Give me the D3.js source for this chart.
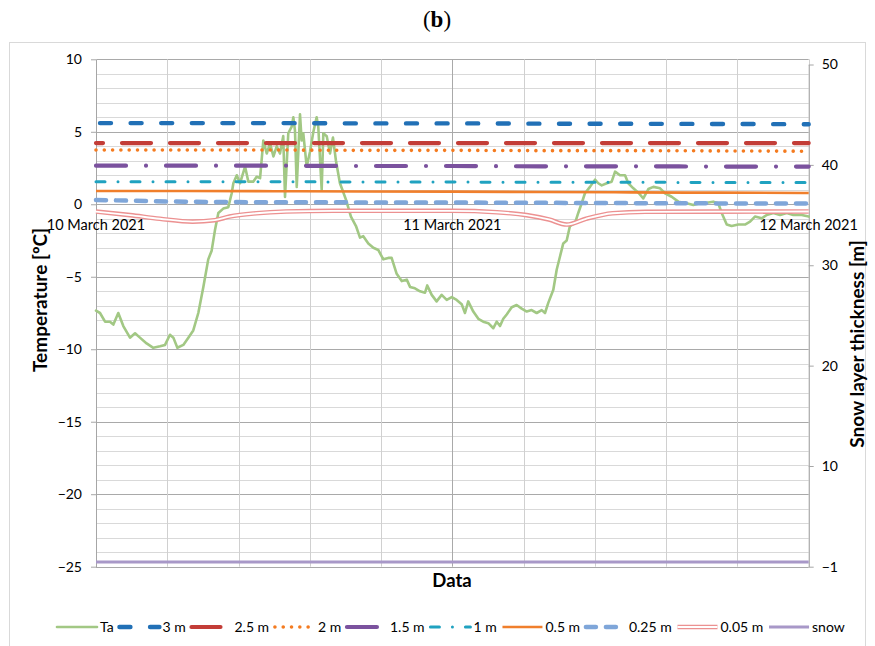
<!DOCTYPE html>
<html>
<head>
<meta charset="utf-8">
<script src="https://cdn.jsdelivr.net/npm/d3@7"></script>
<style>
  body { margin: 0; background: #fff; }
  svg { display: block; }
  text { font-family: Lato, "Open Sans", sans-serif; fill: #000; }
</style>
</head>
<body>
<svg id="chart" width="875" height="646"></svg>
<script>
// ---- data -------------------------------------------------------------
// Time is in hours from 10 March 2021 00:00
const dateLabels = ["10 March 2021", "11 March 2021", "12 March 2021"];
const dateHours = [0, 24, 48];

const leftTicks = [-25, -20, -15, -10, -5, 0, 5, 10];
const rightTicks = [-1, 10, 20, 30, 40, 50];

// Air temperature Ta [°C]
const taHours = [0.0,0.27,0.61,0.94,1.17,1.5,1.84,2.29,2.63,2.96,3.41,3.86,4.31,4.65,4.98,5.21,5.48,5.88,6.22,6.55,6.89,7.23,7.56,7.79,8.01,8.24,8.57,8.91,9.14,9.25,9.48,9.7,10.04,10.26,10.59,10.82,11.05,11.27,11.5,11.72,11.95,12.17,12.39,12.61,12.73,12.95,13.18,13.29,13.4,13.52,13.74,13.85,13.96,14.19,14.41,14.64,14.86,14.97,15.2,15.31,15.54,15.76,15.96,16.16,16.43,16.63,16.84,17.17,17.51,17.78,18.0,18.34,18.68,19.01,19.35,19.69,19.91,20.25,20.59,20.93,21.15,21.48,21.82,22.16,22.31,22.61,22.94,23.28,23.62,23.96,24.29,24.63,24.85,25.07,25.41,25.75,26.08,26.42,26.76,26.99,27.21,27.43,27.66,28.0,28.33,28.67,29.01,29.34,29.68,30.02,30.24,30.46,30.8,31.03,31.25,31.47,31.7,31.92,32.26,32.48,32.71,32.93,33.27,33.61,33.83,34.06,34.4,34.73,34.96,35.29,35.63,35.85,36.19,36.53,36.86,37.2,37.54,37.99,38.32,38.77,39.22,39.78,40.23,40.68,41.13,41.57,41.91,42.14,42.48,42.81,43.26,43.71,44.05,44.38,44.84,45.17,45.62,46.07,46.52,46.96,47.53,48.0];
const taValues = [-7.34,-7.5,-8.1,-8.1,-8.3,-7.5,-8.4,-9.2,-8.9,-9.2,-9.6,-9.9,-9.8,-9.7,-9.0,-9.2,-9.9,-9.7,-9.2,-8.7,-7.5,-5.7,-3.8,-3.2,-1.8,-0.6,-0.3,-0.2,0.76,1.45,2.0,1.45,2.6,1.56,1.56,1.9,1.8,4.4,3.5,4.2,3.3,4.0,3.5,4.7,0.5,4.9,5.35,6.0,5.1,1.2,6.2,4.4,4.9,2.6,3.6,5.0,6.0,5.35,1.0,4.9,4.7,3.5,4.6,3.0,1.45,0.9,0.3,-0.85,-1.5,-2.3,-2.2,-2.7,-3.0,-3.15,-3.8,-3.7,-3.7,-4.8,-5.3,-5.2,-5.7,-5.8,-6.0,-6.1,-5.6,-6.25,-6.7,-6.25,-6.6,-6.4,-6.6,-6.9,-7.5,-6.7,-7.4,-7.9,-8.1,-8.2,-8.55,-8.1,-8.4,-7.9,-7.6,-7.1,-6.95,-7.2,-7.4,-7.3,-7.5,-7.3,-7.5,-6.8,-5.9,-4.5,-3.6,-2.7,-2.5,-1.5,-1.3,-0.6,0.07,0.76,1.2,1.7,1.45,1.3,1.45,1.56,2.25,2.0,2.0,1.45,1.1,0.8,0.4,1.05,1.2,1.1,0.76,0.52,0.18,0.07,-0.05,0.07,0.1,0.18,0.07,-0.6,-1.4,-1.5,-1.4,-1.4,-1.2,-0.85,-0.97,-0.74,-0.6,-0.74,-0.6,-0.74,-0.74,-0.85];

// Ground temperatures at depth [°C]
const profileHours = [0, 6, 12, 18, 24, 30, 36, 42, 48];
const t3m   = [5.6, 5.6, 5.6, 5.58, 5.58, 5.56, 5.55, 5.54, 5.52];
const t25m  = [4.22, 4.22, 4.22, 4.22, 4.22, 4.22, 4.22, 4.22, 4.22];
const t2m   = [3.74, 3.74, 3.74, 3.72, 3.72, 3.7, 3.7, 3.68, 3.66];
const t15m  = [2.66, 2.66, 2.66, 2.64, 2.64, 2.62, 2.62, 2.6, 2.6];
const t1m   = [1.56, 1.56, 1.55, 1.54, 1.53, 1.52, 1.52, 1.5, 1.5];
const t05m  = [0.92, 0.92, 0.9, 0.88, 0.87, 0.85, 0.82, 0.8, 0.78];
const t025m = [0.3, 0.18, 0.14, 0.13, 0.12, 0.1, 0.08, 0.06, 0.05];

const t005Hours  = [0, 2.3, 4.3, 6.5, 8.0, 9.0, 10.8, 12.8, 16, 20, 24, 27, 29, 30.5, 31.7, 33, 34.8, 37, 48];
const t005Values = [-0.5, -0.75, -1.0, -1.2, -1.1, -0.85, -0.62, -0.5, -0.45, -0.45, -0.45, -0.55, -0.75, -1.05, -1.4, -1.0, -0.62, -0.52, -0.5];

// Snow layer thickness [m]
const snowHours = [0, 48];
const snowValues = [-0.5, -0.5];

// ---- layout -----------------------------------------------------------
const svg = d3.select("#chart");
const plot = { left: 96, right: 808.7, top: 59.3, bottom: 566.7 };

const x = d3.scaleLinear().domain([0, 48]).range([plot.left, plot.right]);
const yL = d3.scaleLinear().domain([-25, 10]).range([plot.bottom, plot.top]);
const yR = d3.scaleLinear().domain([-1, 10, 50]).range([plot.bottom, 466, 64.5]);

// outer chart frame
svg.append("rect").attr("x", 9.5).attr("y", 42.5).attr("width", 856).attr("height", 640)
  .attr("fill", "none").attr("stroke", "#d9d9d9").attr("stroke-width", 1);

// title
const title = svg.append("text").attr("x", 437).attr("y", 27).attr("text-anchor", "middle")
  .style("font-family", "'Liberation Serif', 'DejaVu Serif', serif").style("font-size", "23px");
title.append("tspan").text("(");
title.append("tspan").attr("font-weight", "bold").text("b");
title.append("tspan").text(")");

// grid
const grid = svg.append("g");
grid.selectAll("line.h").data(d3.range(-25, 11)).join("line")
  .attr("x1", plot.left).attr("x2", plot.right)
  .attr("y1", d => Math.round(yL(d)) + 0.5).attr("y2", d => Math.round(yL(d)) + 0.5)
  .attr("stroke", d => d % 5 === 0 ? "#a9a9a9" : "#d9d9d9").attr("stroke-width", 1);
grid.selectAll("line.v").data(d3.range(0, 48.01, 4.8)).join("line")
  .attr("x1", d => Math.round(x(d)) + 0.5).attr("x2", d => Math.round(x(d)) + 0.5)
  .attr("y1", plot.top).attr("y2", plot.bottom)
  .attr("stroke", d => Math.abs(d - 24) < 0.01 ? "#a9a9a9" : "#d0d0d0").attr("stroke-width", 1);

// axes
function styleAxis(g) {
  g.selectAll(".domain").attr("stroke", "#a6a6a6");
  g.selectAll(".tick line").attr("stroke", "#a6a6a6");
  g.selectAll(".tick text").style("font-size", "14px").attr("fill", "#000");
}
svg.append("g").attr("transform", `translate(${plot.left},0)`)
  .call(d3.axisLeft(yL).tickValues(leftTicks).tickSize(5).tickSizeOuter(0).tickPadding(9))
  .call(styleAxis);
svg.append("g").attr("transform", `translate(${plot.right},0)`)
  .call(d3.axisRight(yR).tickValues(rightTicks).tickFormat(d3.format("d")).tickSize(5).tickSizeOuter(0).tickPadding(8))
  .call(styleAxis);

// category labels along the zero line
svg.append("g").selectAll("text").data(dateHours).join("text")
  .attr("x", d => x(d)).attr("y", yL(0) + 26).attr("text-anchor", "middle")
  .style("font-size", "14.5px").text((d, i) => dateLabels[i]);

// axis titles
svg.append("text").attr("transform", `translate(47,300) rotate(-90)`).attr("text-anchor", "middle")
  .style("font-size", "19px").attr("font-weight", "bold").text("Temperature [ºC]");
svg.append("text").attr("transform", `translate(864,344) rotate(-90)`).attr("text-anchor", "middle")
  .style("font-size", "19px").attr("font-weight", "bold").text("Snow layer thickness [m]");
svg.append("text").attr("x", 452).attr("y", 587).attr("text-anchor", "middle")
  .style("font-size", "18.5px").attr("font-weight", "bold").text("Data");

// ---- series -----------------------------------------------------------
const lineL = d3.line().x(d => x(d[0])).y(d => yL(d[1]));
const lineR = d3.line().x(d => x(d[0])).y(d => yR(d[1]));
const pairs = (hs, vs) => hs.map((h, i) => [h, vs[i]]);

const series = [
  { name: "Ta",     pts: pairs(taHours, taValues),   gen: lineL, color: "#a2c884", width: 2.6, dash: null,          cap: "round" },
  { name: "3 m",    pts: pairs(profileHours, t3m),   gen: lineL, color: "#2170b6", width: 4.4, dash: "11,19.6",     cap: "round", offset: -4 },
  { name: "2.5 m",  pts: pairs(profileHours, t25m),  gen: lineL, color: "#c33d37", width: 4.2, dash: "29,19",       cap: "round", offset: 22 },
  { name: "2 m",    pts: pairs(profileHours, t2m),   gen: lineL, color: "#f47b20", width: 3.6, dash: "0,8.3",       cap: "round" },
  { name: "1.5 m",  pts: pairs(profileHours, t15m),  gen: lineL, color: "#7b529e", width: 4.2, dash: "30,20,0,20",  cap: "round" },
  { name: "1 m",    pts: pairs(profileHours, t1m),   gen: lineL, color: "#20a2c0", width: 3,   dash: "9,13,0,13",   cap: "round" },
  { name: "0.5 m",  pts: pairs(profileHours, t05m),  gen: lineL, color: "#f07f2c", width: 2.6, dash: null,          cap: "butt" },
  { name: "0.25 m", pts: pairs(profileHours, t025m), gen: lineL, color: "#7fa6d9", width: 4.5, dash: "10,10",       cap: "round" },
  { name: "0.05 m", pts: pairs(t005Hours, t005Values), gen: lineL, color: "#ec9191", width: 4.6, dash: null,       cap: "butt", double: true },
  { name: "snow",   pts: pairs(snowHours, snowValues), gen: lineR, color: "#a898c8", width: 3, dash: null,          cap: "butt" }
];

const gSeries = svg.append("g");
series.forEach(s => {
  const path = s.gen.curve(s.name === "Ta" ? d3.curveLinear : d3.curveMonotoneX)(s.pts);
  gSeries.append("path").attr("d", path).attr("fill", "none")
    .attr("stroke", s.color).attr("stroke-width", s.width)
    .attr("stroke-linecap", s.cap).attr("stroke-linejoin", "round")
    .attr("stroke-dasharray", s.dash).attr("stroke-dashoffset", s.offset || 0);
  if (s.double) {
    gSeries.append("path").attr("d", path).attr("fill", "none")
      .attr("stroke", "#fff").attr("stroke-width", 1.8);
  }
});

// ---- legend -----------------------------------------------------------
const legend = svg.append("g").attr("transform", "translate(57,627)");
let lx = 0;
series.forEach(s => {
  const item = legend.append("g").attr("transform", `translate(${lx},0)`);
  item.append("line").attr("x1", 0).attr("x2", 40).attr("y1", 0).attr("y2", 0)
    .attr("stroke", s.color).attr("stroke-width", s.width)
    .attr("stroke-linecap", s.cap).attr("stroke-dasharray", s.dash);
  if (s.double) {
    item.append("line").attr("x1", 0).attr("x2", 40).attr("stroke", "#fff").attr("stroke-width", 1.8);
  }
  const t = item.append("text").attr("x", 43).attr("y", 5).style("font-size", "14px").text(s.name);
  lx += 43 + t.node().getComputedTextLength() + 5.8;
});
</script>
</body>
</html>
